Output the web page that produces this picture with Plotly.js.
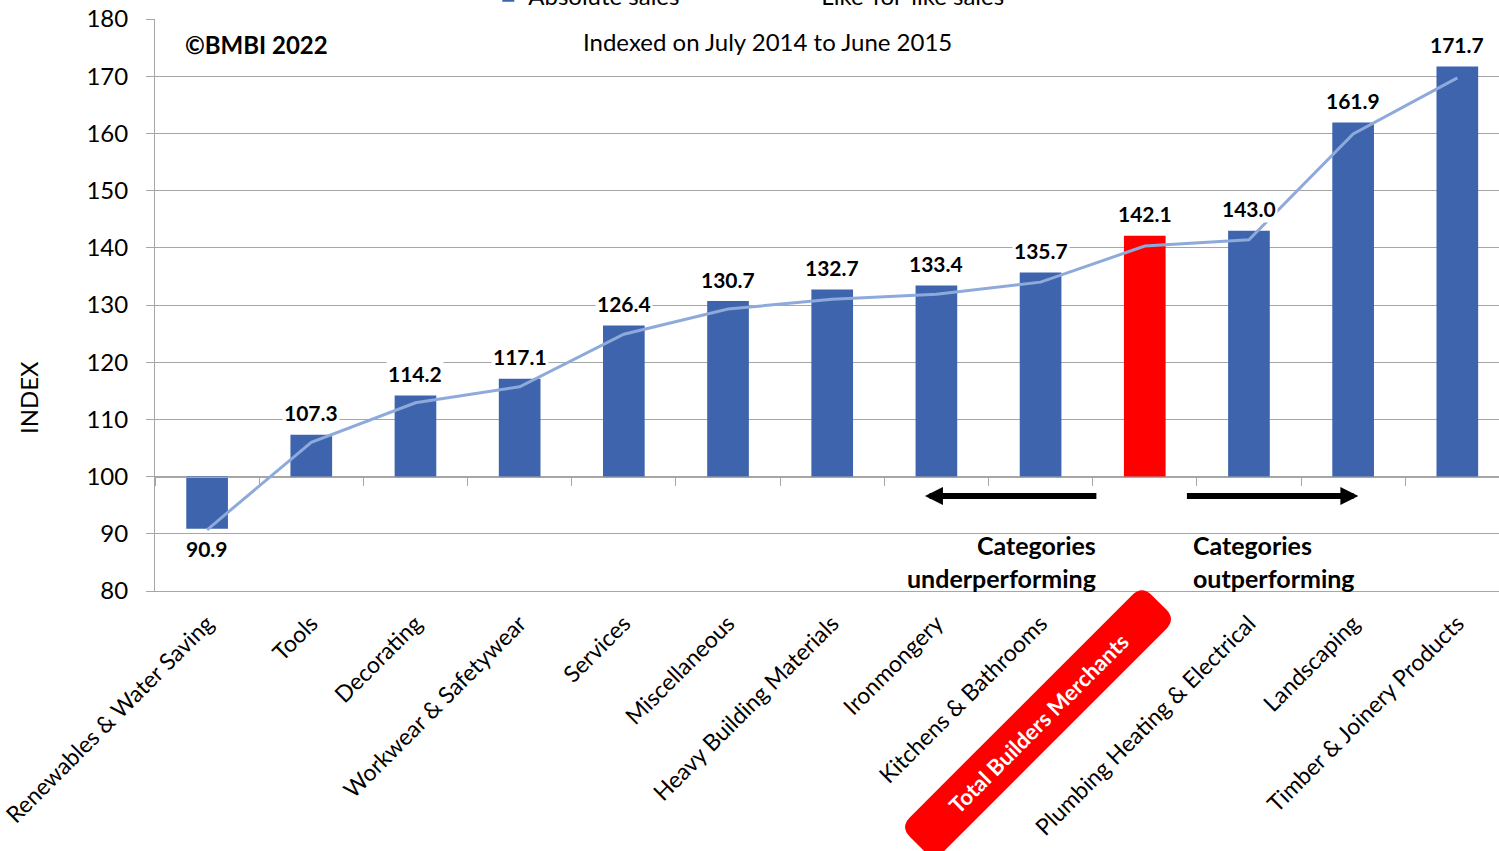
<!DOCTYPE html>
<html>
<head>
<meta charset="utf-8">
<script src="https://cdn.plot.ly/plotly-3.0.1.min.js"></script>
<style>
  html, body { margin: 0; padding: 0; background: #fff; overflow: hidden; }
  #chart { width: 1499px; height: 851px; }
</style>
</head>
<body>
<div id="chart"></div>
<script>
// Category order as in the chart (sorted by absolute sales index)
const categories = [
    'Renewables & Water Saving', 'Tools', 'Decorating', 'Workwear & Safetywear',
    'Services', 'Miscellaneous', 'Heavy Building Materials', 'Ironmongery',
    'Kitchens & Bathrooms', 'Total Builders Merchants', 'Plumbing Heating & Electrical',
    'Landscaping', 'Timber & Joinery Products'
];
const absoluteSales = [90.9, 107.3, 114.2, 117.1, 126.4, 130.7, 132.7, 133.4, 135.7, 142.1, 143.0, 161.9, 171.7];
const likeForLike = [90.7, 106.0, 112.9, 115.7, 124.9, 129.3, 131.0, 131.9, 134.0, 140.3, 141.4, 159.9, 169.7];
const highlight = 'Total Builders Merchants';
const baseIndex = 100;

const FONT = 'Lato, "Open Sans", sans-serif';
const BLUE = '#3d64ad';
const RED = '#ff0000';
const GRID = '#a6a6a6';

const barColors = categories.map(c => c === highlight ? RED : BLUE);

const traceBars = {
    x: categories,
    y: absoluteSales.map(v => v - baseIndex),
    base: baseIndex,
    type: 'bar',
    name: 'Absolute sales',
    width: 0.4,
    marker: { color: barColors },
    hoverinfo: 'skip'
};

const traceLine = {
    x: categories,
    y: likeForLike,
    xaxis: 'x2',
    type: 'scatter',
    mode: 'lines',
    name: 'Like-for-like sales',
    line: { color: '#8eaadb', width: 3 },
    hoverinfo: 'skip'
};

// value labels with white boxes, as in the original
const valueLabels = categories.map((c, i) => ({
    x: c, y: absoluteSales[i], xref: 'x', yref: 'y',
    text: '<b>' + absoluteSales[i].toFixed(1) + '</b>',
    showarrow: false,
    yshift: absoluteSales[i] >= baseIndex ? 22 : -20,
    bgcolor: '#ffffff',
    font: { family: FONT, size: 21, color: '#000' }
}));

// rounded red box behind the highlighted category label
const roundedBox = (L, H, r, ang) => {
    const c = Math.cos(ang), s = Math.sin(ang);
    const p = (a, b) => (a * c - b * s).toFixed(1) + ',' + (a * s + b * c).toFixed(1);
    const a = L / 2, b = H / 2;
    return 'M' + p(-a + r, -b) + ' L' + p(a - r, -b) + ' Q' + p(a, -b) + ' ' + p(a, -b + r) +
        ' L' + p(a, b - r) + ' Q' + p(a, b) + ' ' + p(a - r, b) +
        ' L' + p(-a + r, b) + ' Q' + p(-a, b) + ' ' + p(-a, b - r) +
        ' L' + p(-a, -b + r) + ' Q' + p(-a, -b) + ' ' + p(-a + r, -b) + ' Z';
};

const boxX = 0.657, boxY = -0.231;

const shapes = [
    {
        type: 'path', xref: 'paper', yref: 'paper',
        xsizemode: 'pixel', ysizemode: 'pixel', xanchor: boxX, yanchor: boxY,
        path: roundedBox(342, 48, 14, Math.PI / 4),
        fillcolor: RED, line: { width: 0 }, layer: 'above'
    }
];

const annotations = valueLabels.concat([
    {
        xref: 'paper', yref: 'paper', x: 0.0205, y: 0.956, xanchor: 'left', yanchor: 'middle',
        text: '<b>©BMBI 2022</b>', showarrow: false,
        font: { family: FONT, size: 24, color: '#000' }
    },
    {
        xref: 'paper', yref: 'paper', x: 0.4554, y: 0.960, xanchor: 'center', yanchor: 'middle',
        text: 'Indexed on July 2014 to June 2015', showarrow: false,
        font: { family: FONT, size: 24, color: '#000' }
    },
    {
        xref: 'paper', yref: 'paper', x: -0.0945, y: 0.339, xanchor: 'center', yanchor: 'middle',
        text: 'INDEX', textangle: -90, showarrow: false,
        font: { family: FONT, size: 24, color: '#000' }
    },
    {
        xref: 'paper', yref: 'paper', x: 0.7015, y: 0.0524, xanchor: 'right', yanchor: 'middle',
        align: 'right', text: '<b>Categories<br>underperforming</b>', showarrow: false,
        font: { family: FONT, size: 25, color: '#000' }
    },
    {
        xref: 'paper', yref: 'paper', x: 0.7710, y: 0.0524, xanchor: 'left', yanchor: 'middle',
        align: 'left', text: '<b>Categories<br>outperforming</b>', showarrow: false,
        font: { family: FONT, size: 25, color: '#000' }
    },
    // arrows
    {
        xref: 'x', yref: 'y', axref: 'x', ayref: 'y',
        x: 6.89, y: 96.6, ax: 8.55, ay: 96.6, text: '',
        showarrow: true, arrowhead: 2, arrowsize: 0.6, arrowwidth: 6, arrowcolor: '#000'
    },
    {
        xref: 'x', yref: 'y', axref: 'x', ayref: 'y',
        x: 11.05, y: 96.6, ax: 9.39, ay: 96.6, text: '',
        showarrow: true, arrowhead: 2, arrowsize: 0.6, arrowwidth: 6, arrowcolor: '#000'
    },
    {
        xref: 'paper', yref: 'paper', x: boxX, y: boxY, xanchor: 'center', yanchor: 'middle',
        text: '<b>' + highlight + '</b>', textangle: -45, showarrow: false,
        font: { family: FONT, size: 22, color: '#fff' }
    }
]);

const tickText = categories.map(c => c === highlight ? '' : c);

const layout = {
    width: 1499,
    height: 851,
    paper_bgcolor: '#fff',
    plot_bgcolor: '#fff',
    margin: { l: 155, r: 0, t: 19, b: 260, autoexpand: false },
    font: { family: FONT, color: '#000' },
    showlegend: true,
    legend: {
        orientation: 'h', x: 0.248, y: 1.040, xanchor: 'left', yanchor: 'middle',
        font: { family: FONT, size: 24, color: '#000' },
        entrywidth: 248, entrywidthmode: 'pixels', borderwidth: 0, bgcolor: 'rgba(0,0,0,0)'
    },
    xaxis: {
        type: 'category',
        categoryarray: categories,
        range: [-0.5, 12.4],
        tickvals: categories,
        ticktext: tickText,
        tickangle: -45,
        tickfont: { family: FONT, size: 23, color: '#000' },
        ticks: '',
        ticklabelstandoff: 9,
        showgrid: false,
        showline: true,
        linecolor: GRID,
        linewidth: 1,
        automargin: false,
        fixedrange: true
    },
    xaxis2: {
        type: 'category',
        categoryarray: categories,
        range: [-0.5, 12.4],
        overlaying: 'x',
        anchor: 'free',
        position: 0.2,
        showticklabels: false,
        ticks: 'outside',
        tickson: 'boundaries',
        ticklen: 8,
        tickcolor: GRID,
        showgrid: false,
        showline: true,
        linecolor: GRID,
        automargin: false
    },
    yaxis: {
        range: [80, 180],
        dtick: 10,
        tickfont: { family: FONT, size: 24, color: '#000' },
        ticks: 'outside',
        ticklen: 8,
        tickcolor: GRID,
        ticklabelstandoff: 13,
        showgrid: true,
        gridcolor: GRID,
        gridwidth: 1,
        zeroline: false,
        showline: true,
        linecolor: GRID,
        automargin: false
    },
    shapes: shapes,
    annotations: annotations
};

Plotly.newPlot('chart', [traceBars, traceLine], layout, { displayModeBar: false, staticPlot: true });
</script>
</body>
</html>
